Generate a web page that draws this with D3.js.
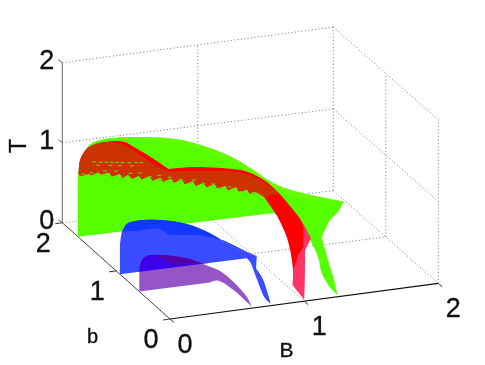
<!DOCTYPE html>
<html><head><meta charset="utf-8">
<script src="https://cdn.jsdelivr.net/npm/d3@7"></script>
<style>html,body{margin:0;padding:0;background:#fff}svg{display:block;filter:blur(0.4px)}text{font-family:"Liberation Sans",Arial,sans-serif;fill:#111;stroke:#111;stroke-width:.35px}</style>
</head><body><svg id="c" width="485" height="365"></svg>
<script>
// tick values
const tTicks=[0,1,2], bTicks=[0,1,2], BTicks=[0,1,2];
// sheets: [B,T] at fixed b, tails: [B,b,T]
const greenB=1.71, blueB=0.93, purpleB=0.57;
const greenArch=[[0,.625],[.006,.83],[.04,1.03],[.102,1.145],[.188,1.176],[.337,1.169],[.535,1.127],[.733,1.06],[.906,.952],[1.104,.786],[1.276,.587],[1.425,.391],[1.549,.276],[1.746,.153],[1.964,.037]];
const greenTailOut=[[1.964,1.71,.037],[1.877,1.59,0],[1.762,1.45,0],[1.58,1.14,0]];
const greenTailEnd=[[1.58,1.14,0],[1.456,.705,0],[1.365,.376,0],[1.26,.03,0]];
const greenTailIn=[[1.26,.03,0],[1.27,.2,0],[1.32,.48,0],[1.413,.785,0],[1.485,1.12,0]];
const greenBase=[[1.447,0],[0,0]];
const greenGlow=[[.188,1.176],[.337,1.169],[.535,1.127],[.733,1.06],[.906,.952],[1.104,.786],[1.276,.587],[1.425,.391],[1.549,.276],[1.746,.153],[1.964,.037]];
const greenGlowIn=[[1.964,.037],[1.7,.12],[1.55,.2],[1.42,.33],[1.28,.53],[1.10,.73],[.9,.90],[.73,1.01],[.53,1.09],[.34,1.14],[.188,1.176]];
const redArchA=[[.006,.77],[.016,.955],[.07,1.09],[.151,1.135],[.337,1.115],[.411,1.036],[.535,.886],[.671,.705]];
const redArchB=[[.671,.705],[.807,.698],[1.03,.645],[1.252,.55],[1.375,.422],[1.475,.258]];
const redOut=[[1.597,1.724,0],[1.567,1.485,0],[1.503,1.152,0]];
const redStem=[[1.503,1.152,0],[1.38,.946,0],[1.013,.034,0],[1.044,.325,0]];
const redIn=[[1.044,.325,0],[1.178,.665,0],[1.358,1.238,0],[1.452,1.668,0]];
const redFringe=[[1.375,.217],[1.34,.26],[1.30,.30],[1.27,.27],[1.25,.33],[1.19,.31],[1.17,.38],[1.11,.35],[1.09,.41],[1.03,.39],[1.01,.45],[.95,.42],[.93,.48],[.87,.455],[.85,.52],[.79,.49],[.77,.56],[.71,.525],[.69,.585],[.63,.555],[.61,.61],[.55,.585],[.53,.65],[.47,.615],[.45,.665],[.40,.64],[.37,.70],[.33,.665],[.31,.72],[.25,.70],[.23,.755],[.17,.74],[.15,.775],[.10,.745],[.08,.77],[.03,.755]];
const redDarkA=[[.006,.77],[.016,.955],[.07,1.09],[.151,1.135],[.26,1.122],[.325,1.088],[.461,.923],[.609,.726],[.671,.671]];
const redDarkB=[[.671,.671],[.906,.634],[1.153,.57],[1.301,.478],[1.401,.355],[1.487,.236]];
const pinkEdge=[[1.013,.034,0],[1.044,.325,0],[1.157,.603,0],[1.3,.869,0],[1.393,1.012,0],[1.54,1.387,0],[1.595,1.655,0],[1.567,1.485,0],[1.503,1.152,0],[1.38,.946,0]];
const specks=[[.12,.91],[.17,.895],[.21,.885],[.25,.875],[.29,.865],[.33,.855],[.38,.845],[.43,.835],[.47,.825],[.15,.86],[.24,.84],[.31,.82],[.40,.80],[.387,.71],[.535,.637],[.609,.58],[.757,.554],[.832,.493],[.928,.474],[1.054,.386],[1.2,.314],[1.3,.274],[.04,.775],[.1,.78],[.2,.78],[.28,.76],[.46,.70],[.68,.60],[.6,.64],[.86,.53],[1.0,.45],[1.12,.39]];
const blueArch=[[0,.344],[.013,.509],[.05,.616],[.125,.642],[.297,.613],[.496,.52],[.668,.367],[.841,.163],[1.015,.012]];
const blueTailOut=[[.928,.722,0],[.889,.489,0],[.763,.029,0]];
const blueTailIn=[[.763,.029,0],[.767,.147,0],[.858,.536,0],[.937,.858,0],[.94,.93,0]];
const blueStart=[[0,0]];
const blueTop=[[.013,.509],[.05,.616],[.125,.642],[.297,.613],[.496,.52],[.668,.367],[.841,.163],[1.015,.012]];
const blueTopIn=[[1.015,.012],[.941,.08],[.765,.263],[.594,.361],[.372,.41],[.285,.512],[.125,.517],[.013,.529]];
const purpleArch=[[0,.269],[.018,.39],[.055,.436],[.154,.423],[.352,.339],[.526,.195],[.60,.127]];
const purpleTailOut=[[.682,.528,0],[.66,.221,0],[.621,.026,0]];
const purpleTailIn=[[.621,.026,0],[.622,.13,0],[.623,.376,0],[.592,.583,0],[.526,.57,0]];
const purpleStart=[[0,0]];
const purpleDeep=[[.117,.422],[.154,.423],[.352,.339],[.526,.195],[.60,.127]];
const purpleDeepIn=[[.60,.127],[.526,.237],[.265,.274],[.117,.422]];

const svg=d3.select("#c");
const backEdge=d3.scaleLinear().domain([2,0]).range([[62.3,222.7],[170,319]]);
const rightEdge=d3.scaleLinear().domain([2,0]).range([[333.3,190.7],[438.3,283.3]]);
const mixB=d3.scaleLinear().domain([0,2]).range([0,1]);
const liftT=d3.scaleLinear().domain([0,1]).range([0,80]);
function P(B,b,T){
  const f=d3.interpolate(backEdge(b),rightEdge(b))(mixB(B));
  return [f[0], f[1]-liftT(T)*(1+0.01125*B)];
}
const sheet=(pts,b)=>pts.map(d=>P(d[0],b,d[1]));
const free=pts=>pts.map(d=>P(d[0],d[1],d[2]));
const line=d3.line().curve(d3.curveLinear);
const smooth=d3.line().curve(d3.curveCatmullRom.alpha(0.5));
// outline from segments: ["s"|"l", projected points]
const outline=segs=>segs.map(([k,p],i)=>{
  const d=(k==="s"?smooth:line)(p).replace(/Z$/,"");
  return i?d.replace(/^M/,"L"):d;
}).join("")+"Z";
const fillPath=(g,d,c)=>g.append("path").attr("d",d).attr("fill",c);

// grid
const grid=svg.append("g").attr("fill","none").attr("stroke","#777").attr("stroke-width",1).attr("stroke-dasharray","1 2.4");
const seg=(a,b)=>grid.append("path").attr("d",line([a,b]));
tTicks.forEach(t=>{ seg(P(0,2,t),P(2,2,t)); seg(P(2,2,t),P(2,0,t)); });
[1,2].forEach(B=>seg(P(B,2,0),P(B,2,2)));
[1,0].forEach(b=>seg(P(2,b,0),P(2,b,2)));
seg(P(1,2,0),P(1,0,0));
seg(P(0,1,0),P(2,1,0));

// axes
const axes=svg.append("g").attr("fill","none");
const solid=(a,b,c,w)=>axes.append("path").attr("d",line([a,b])).attr("stroke",c).attr("stroke-width",w||1);
solid(P(0,2,0),P(0,2,2),"#666");
solid(P(0,2,0),P(0,0,0),"#444");
solid(P(0,0,0),P(2,0,0),"#111",1.2);
tTicks.forEach(t=>{const p=P(0,2,t);solid(p,[p[0]-4,p[1]-3],"#666");});
bTicks.forEach(b=>{const p=P(0,b,0);solid(p,[p[0]-7,p[1]+1],"#333");});
BTicks.forEach(B=>{const p=P(B,0,0);solid(p,[p[0]+4,p[1]+3.5],"#333");});

// surfaces
const s=svg.append("g");
fillPath(s,outline([["s",sheet(greenArch,greenB)],["s",free(greenTailOut)],["s",free(greenTailEnd)],["s",free(greenTailIn)],["l",sheet(greenBase,greenB)]]),"#55ff00");
fillPath(s,outline([["s",sheet(greenGlow,greenB)],["s",sheet(greenGlowIn,greenB)]]),"#66ff00");
const redFull=outline([["s",sheet(redArchA,greenB)],["s",[...sheet(redArchB,greenB),...free(redOut)]],["l",free(redStem)],["s",free(redIn)],["l",sheet(redFringe,greenB)]]);
fillPath(s,redFull,"#ff0000");
fillPath(s,outline([["l",free(pinkEdge)]]),"#ff3366");
fillPath(s,outline([["s",sheet(redDarkA,greenB)],["s",sheet(redDarkB,greenB)],["l",sheet(redFringe,greenB)]]),"#cc3300");
const dash=d3.symbol().type(d3.symbolSquare).size(4);
s.append("g").selectAll("path").data(specks).join("path")
  .attr("d",dash).attr("fill","#86b80c")
  .attr("transform",d=>{const p=P(d[0],greenB,d[1]);return `translate(${p[0]},${p[1]}) scale(1.9,.6)`;});

const blueD=outline([["l",sheet(blueStart,blueB)],["s",sheet(blueArch,blueB)],["s",free(blueTailOut)],["s",free(blueTailIn)]]);
const purpleD=outline([["l",sheet(purpleStart,purpleB)],["s",[...sheet(purpleArch,purpleB),...free(purpleTailOut)]],["s",free(purpleTailIn)]]);
fillPath(s,blueD,"#3a4cff");
fillPath(s,outline([["s",sheet(blueTop,blueB)],["l",sheet(blueTopIn,blueB)]]),"#1237ff");
fillPath(s,purpleD,"#9655c6");
svg.append("clipPath").attr("id","blueClip").append("path").attr("d",blueD);
const over=s.append("g").attr("clip-path","url(#blueClip)");
fillPath(over,purpleD,"#3a00ea");
fillPath(over,outline([["s",sheet(purpleDeep,purpleB)],["l",sheet(purpleDeepIn,purpleB)]]),"#5200a8");

// labels
const lab=svg.append("g");
const text=(x,y,t,size,anchor)=>lab.append("text").attr("x",x).attr("y",y).attr("font-size",size).attr("text-anchor",anchor||"middle").text(t);
tTicks.forEach(t=>{const p=P(0,2,t);text(p[0]-8,p[1]+6,String(t),27,"end");});
bTicks.forEach(b=>{const p=P(0,b,0);text(p[0]-19,p[1]+29,String(b),27);});
BTicks.forEach(B=>{const p=P(B,0,0);text(p[0]+15,p[1]+33.5,String(B),27);});
lab.append("text").attr("transform","translate(26,146) rotate(-90)").attr("font-size",23).attr("text-anchor","middle").text("T");
text(92.5,343,"b",20);
text(286.5,357,"B",21);
</script></body></html>
